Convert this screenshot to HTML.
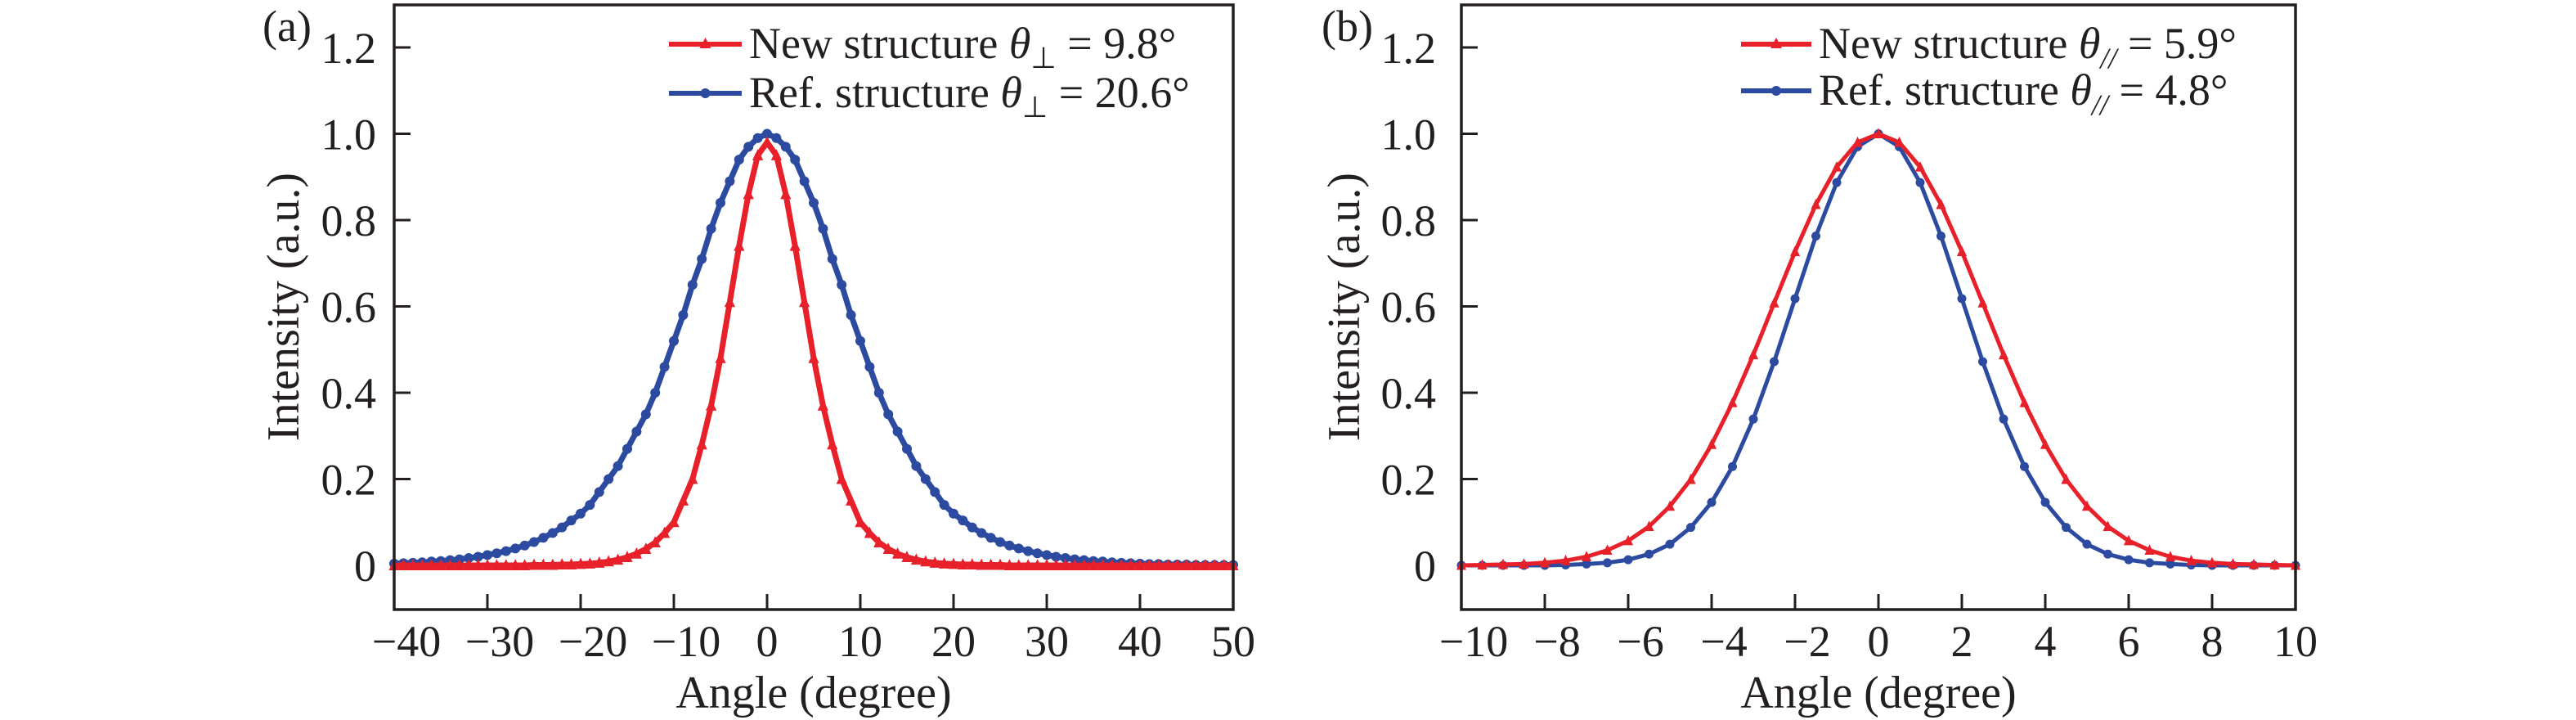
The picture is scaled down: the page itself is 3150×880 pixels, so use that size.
<!DOCTYPE html>
<html><head><meta charset="utf-8"><style>
html,body{margin:0;padding:0;background:#fff}
svg{display:block}
text{font-family:"Liberation Serif",serif;fill:#231f20}
</style></head><body>
<svg id="chart" width="3150" height="880" viewBox="0 0 3150 880"></svg>
<script>
// ---- data panel (a) ----
const xA = [];
for (let i = -40; i <= 50; i++) xA.push(i);
const redHalfA = [0.98,0.95,0.86,0.74,0.61,0.48,0.37,0.28,0.20,0.15,0.10,0.075,0.053,0.038,0.027,0.019,0.013,0.009,0.006,0.004,0.003,0.002,0.002,0.001,0.001,0.001,0,0,0,0,0,0,0,0,0,0,0,0,0,0,0,0,0,0,0,0,0,0,0,0,0];
const blueHalfA = [1.00,0.99,0.97,0.94,0.89,0.84,0.78,0.71,0.65,0.58,0.52,0.46,0.40,0.35,0.31,0.27,0.23,0.20,0.17,0.14,0.12,0.104,0.088,0.075,0.064,0.054,0.046,0.039,0.033,0.028,0.024,0.020,0.017,0.014,0.012,0.010,0.009,0.007,0.006,0.005,0.004,0.003,0.003,0.002,0.002,0.002,0.001,0.001,0.001,0.001,0.001];
const redA = xA.map(x => redHalfA[Math.abs(x)]);
const blueA = xA.map(x => blueHalfA[Math.abs(x)]);
// ---- data panel (b) ----
const xB = [];
for (let i = -20; i <= 20; i++) xB.push(i * 0.5);
const redHalfB = [1,0.980,0.923,0.836,0.727,0.608,0.488,0.377,0.280,0.199,0.137,0.090,0.057,0.035,0.020,0.011,0.006,0.003,0.002,0.001,0];
const blueHalfB = [1,0.970,0.887,0.763,0.618,0.472,0.339,0.229,0.146,0.088,0.049,0.026,0.013,0.006,0.003,0.001,0,0,0,0,0];
const redB = xB.map((x, i) => redHalfB[Math.abs(i - 20)]);
const blueB = xB.map((x, i) => blueHalfB[Math.abs(i - 20)]);
const yTicks = [0, 0.2, 0.4, 0.6, 0.8, 1.0, 1.2];
const yTickLabels = ["0", "0.2", "0.4", "0.6", "0.8", "1.0", "1.2"];
const xTicksA = [-40, -30, -20, -10, 0, 10, 20, 30, 40, 50];
const xTicksB = [-10, -8, -6, -4, -2, 0, 2, 4, 6, 8, 10];

const NS = "http://www.w3.org/2000/svg";
const svg = document.getElementById("chart");
const RED = "#e8202a", BLUE = "#2c4ba0";
function mk(tag, attrs, parent) {
  const e = document.createElementNS(NS, tag);
  for (const k in attrs) e.setAttribute(k, attrs[k]);
  (parent || svg).appendChild(e);
  return e;
}

function panel(opt) {
  const g = mk("g", {});
  
  
  const L = opt.left, R = opt.right, T = 6, B = 745;
  const sx = v => L + (v - opt.xmin) / (opt.xmax - opt.xmin) * (R - L);
  const sy = v => 691 - v * 527.5;
  opt.xticks.forEach(t => {
    const px = sx(t);
    if (t !== opt.xmin && t !== opt.xmax) {
      const tk = mk("line", {x1: px, x2: px, y1: B, y2: B - 19, stroke: "#231f20", "stroke-width": 3}, g);
      
      
    }
    const neg = t < 0;
    const lb = mk("text", {x: px + (neg ? 15 : 0), y: 802, "font-size": 54, "text-anchor": "middle"}, g);
    lb.textContent = (neg ? "\u2212" + Math.abs(t) : String(t));
    
    
  });
  yTicks.forEach((t, i) => {
    const py = sy(t);
    const tk = mk("line", {x1: L, x2: L + 20, y1: py, y2: py, stroke: "#231f20", "stroke-width": 3}, g);
    
    
    const lb = mk("text", {x: opt.ylabX, y: py + 19, "font-size": 54, "text-anchor": "end"}, g);
    lb.textContent = yTickLabels[i];
    
    
  });
  function series(xs, ys, color, marker, nm) {
    const sg = mk("g", {}, g);
    
    
    const pts = xs.map((x, i) => sx(x).toFixed(1) + "," + sy(ys[i]).toFixed(1)).join(" ");
    const pl = mk("polyline", {points: pts, fill: "none", stroke: color, "stroke-width": opt.lw, "stroke-linejoin": "round"}, sg);
    
    
    const s = opt.ms;
    xs.forEach((x, i) => {
      const px = sx(x), py = sy(ys[i]);
      let m;
      if (marker === "tri") m = mk("polygon", {points: `${px},${py-s*1.3} ${px-s*1.1},${py+s} ${px+s*1.1},${py+s}`, fill: color}, sg);
      else m = mk("circle", {cx: px, cy: py, r: s, fill: color}, sg);
      
      
    });
  }
  series(opt.x, opt.blue, BLUE, "circ", "ref-structure-series");
  series(opt.x, opt.red, RED, "tri", "new-structure-series");
  const fr = mk("rect", {x: L, y: T, width: R - L, height: B - T, fill: "none", stroke: "#231f20", "stroke-width": 3.5}, g);
  
  
  const xt = mk("text", {x: (L + R) / 2, y: 865, "font-size": 56, "text-anchor": "middle"}, g);
  xt.textContent = "Angle (degree)";
  
  
  const yt = mk("text", {x: 0, y: 0, "font-size": 56, "text-anchor": "middle", transform: `translate(${opt.ytitleX},375) rotate(-90)`}, g);
  yt.textContent = "Intensity (a.u.)";
  
  
  const pl = mk("text", {x: opt.panelX, y: 50, "font-size": 54}, g);
  pl.textContent = opt.panelLabel;
  
  
  const lg = mk("g", {}, g);
  
  
  opt.legend.forEach((e, i) => {
    const ly = opt.legY[i];
    const eg = mk("g", {}, lg);
    
    
    mk("line", {x1: opt.legX1, x2: opt.legX2, y1: ly, y2: ly, stroke: e.color, "stroke-width": 6}, eg);
    const mx = (opt.legX1 + opt.legX2) / 2;
    if (e.marker === "tri") mk("polygon", {points: `${mx},${ly-8} ${mx-7},${ly+5} ${mx+7},${ly+5}`, fill: e.color}, eg);
    else mk("circle", {cx: mx, cy: ly, r: 6, fill: e.color}, eg);
    const t = mk("text", {x: opt.legX2 + 9, y: ly + 17, "font-size": 54}, eg);
    t.innerHTML = e.text + ' <tspan font-style="italic">\u03b8</tspan><tspan font-size="36" dy="12" ' + (e.sub === "//" ? 'font-style="italic"' : '') + '>' + e.sub + '</tspan><tspan dy="-12"> = ' + e.val + '\u00b0</tspan>';
  });
}

panel({name: "panel-a", left: 482, right: 1508, xmin: -40, xmax: 50, x: xA, red: redA, blue: blueA,
  xticks: xTicksA, ylabX: 460, ytitleX: 365, panelX: 321, panelLabel: "(a)", lw: 7, ms: 6,
  legX1: 818, legX2: 907, legY: [54, 114],
  legend: [{text: "New structure", sub: "\u22a5", val: "9.8", color: RED, marker: "tri"},
           {text: "Ref. structure", sub: "\u22a5", val: "20.6", color: BLUE, marker: "circ"}]});
panel({name: "panel-b", left: 1787, right: 2807, xmin: -10, xmax: 10, x: xB, red: redB, blue: blueB,
  xticks: xTicksB, ylabX: 1756, ytitleX: 1662, panelX: 1616, panelLabel: "(b)", lw: 5, ms: 5.5,
  legX1: 2129, legX2: 2215, legY: [54, 111],
  legend: [{text: "New structure", sub: "//", val: "5.9", color: RED, marker: "tri"},
           {text: "Ref. structure", sub: "//", val: "4.8", color: BLUE, marker: "circ"}]});
</script>
</body></html>
